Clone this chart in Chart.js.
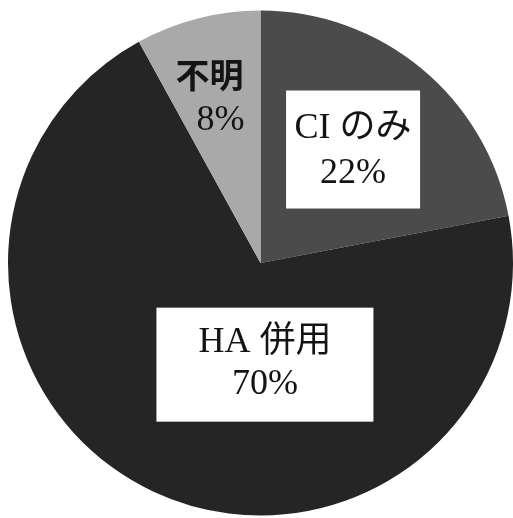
<!DOCTYPE html>
<html lang="ja">
<head>
<meta charset="utf-8">
<title>CI / HA</title>
<script src="https://cdn.jsdelivr.net/npm/chart.js@4.4.1/dist/chart.umd.min.js"></script>
<style>
  html, body { margin: 0; padding: 0; background: #fff; }
  #wrap { width: 513px; height: 518px; }
</style>
</head>
<body>
<div id="wrap"><canvas id="pie" width="513" height="518"></canvas></div>
<script>
// slice data, clockwise from 12 o'clock
const categories = ["CI のみ", "HA 併用", "不明"];
const shares = [22, 70, 8];
const sliceColors = ["#4b4b4b", "#252525", "#a9a9a9"];

// label placement: angle (deg, clockwise from top), fraction of radius, box size
const serifFont = "36px 'Liberation Serif', 'Noto Sans CJK JP', serif";
const labelPlacement = [
  { angle: 39.2, frac: 0.58, box: [134, 118], font: serifFont, color: "#141414", lines: [-21, 24] },
  { angle: 177.5, frac: 0.403, box: [217, 114], font: serifFont, color: "#141414", lines: [-22, 20] },
  { angle: 344.5, frac: 0.68, box: null, font: "bold 34px 'Noto Sans CJK JP', sans-serif", color: "#141414", lines: [-22, 23] }
];

const sliceLabels = {
  id: "sliceLabels",
  afterDatasetsDraw(chart) {
    const { ctx } = chart;
    const arcs = chart.getDatasetMeta(0).data;
    ctx.save();
    ctx.textAlign = "center";
    ctx.textBaseline = "middle";
    arcs.forEach((arc, i) => {
      const p = labelPlacement[i];
      const a = p.angle * Math.PI / 180;
      const r = arc.outerRadius * p.frac;
      const x = arc.x + r * Math.sin(a);
      const y = arc.y - r * Math.cos(a);
      if (p.box) {
        ctx.fillStyle = "#fff";
        ctx.fillRect(x - p.box[0] / 2, y - p.box[1] / 2, p.box[0], p.box[1]);
      }
      ctx.fillStyle = p.color;
      if (i === 2) {
        ctx.font = p.font;
        ctx.fillText(categories[i], x - 5, y + p.lines[0]);
        ctx.font = "36px 'Liberation Serif', serif";
        ctx.fillText(shares[i] + "%", x + 6, y + p.lines[1]);
      } else {
        ctx.font = p.font;
        ctx.fillText(categories[i], x, y + p.lines[0]);
        ctx.fillText(shares[i] + "%", x, y + p.lines[1]);
      }
    });
    ctx.restore();
  }
};

new Chart(document.getElementById("pie"), {
  type: "pie",
  data: {
    labels: categories,
    datasets: [{
      data: shares,
      backgroundColor: sliceColors,
      borderWidth: 0
    }]
  },
  options: {
    responsive: false,
    animation: false,
    layout: { padding: { left: 8, right: 0, top: 10, bottom: 2 } },
    plugins: {
      legend: { display: false },
      tooltip: { enabled: false }
    }
  },
  plugins: [sliceLabels]
});
</script>
</body>
</html>
